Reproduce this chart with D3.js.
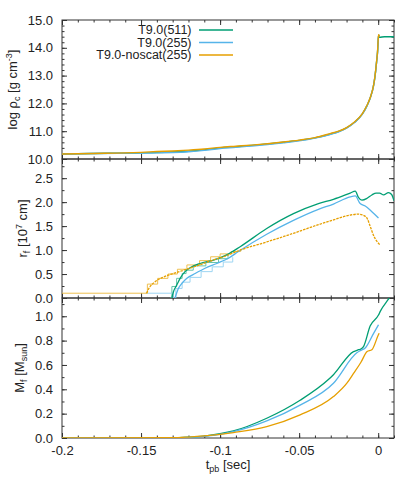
<!DOCTYPE html>
<html>
  <head>
    <meta charset="utf-8" />
    <title>Central density, shock radius, mass</title>
    <script src="https://d3js.org/d3.v7.min.js"></script>
    <style>
      body { margin: 0; background: #fff; }
      svg text { font-family: "Liberation Sans", Arial, sans-serif; fill: #222; }
    </style>
  </head>
  <body>
    <svg id="viz"></svg>
    <script>

      // series names & colours
      var names = ["T9.0(511)", "T9.0(255)", "T9.0-noscat(255)"];
      var colors = ["#009e73", "#56b4e9", "#e69f00"];
      var lightColors = ["#66c5ab", "#9dd5f2", "#efc050"];

      // top panel: log central density
      var tRho = [-0.2, -0.18, -0.16, -0.15, -0.14, -0.13, -0.12, -0.11, -0.1, -0.09, -0.08, -0.07, -0.06, -0.05, -0.04, -0.03, -0.025, -0.02, -0.015, -0.01, -0.007, -0.005, -0.003, -0.002, -0.001, -0.0004, 0.0, 0.0003, 0.0008, 0.004, 0.01];
      var rhoGreen = [10.18, 10.2, 10.21, 10.22, 10.23, 10.25, 10.28, 10.33, 10.4, 10.44, 10.49, 10.54, 10.6, 10.67, 10.76, 10.9, 10.99, 11.12, 11.32, 11.62, 11.93, 12.2, 12.62, 12.98, 13.5, 13.85, 14.25, 14.45, 14.38, 14.4, 14.4];
      var rhoBlue = [10.18, 10.2, 10.21, 10.21, 10.22, 10.23, 10.26, 10.31, 10.38, 10.42, 10.47, 10.52, 10.58, 10.65, 10.75, 10.89, 10.98, 11.11, 11.31, 11.61, 11.92, 12.2, 12.62, 12.98, 13.5, 13.85, 14.25, 14.45, 14.4, null, null];
      var rhoOrange = [10.18, 10.2, 10.22, 10.24, 10.27, 10.29, 10.32, 10.36, 10.42, 10.46, 10.5, 10.55, 10.61, 10.68, 10.77, 10.92, 11.0, 11.13, 11.33, 11.63, 11.94, 12.21, 12.63, 12.99, 13.52, 13.88, 14.3, 14.47, 14.4, null, null];

      // middle panel: shock radius (main curves)
      var rGreenT = [-0.1305, -0.1295, -0.1274, -0.1253, -0.1222, -0.119, -0.1127, -0.1042, -0.0958, -0.0873, -0.0705, -0.0536, -0.0378, -0.0283, -0.0177, -0.0145, -0.0125, -0.0103, -0.007, -0.004, -0.0013, 0.0009, 0.0034, 0.0065, 0.0085, 0.01];
      var rGreen = [0, 0.13, 0.27, 0.41, 0.55, 0.63, 0.72, 0.79, 0.9, 1.07, 1.45, 1.76, 1.97, 2.06, 2.19, 2.23, 2.1, 2.04, 2.08, 2.15, 2.19, 2.19, 2.15, 2.2, 2.16, 2.03];
      var rBlueT = [-0.1285, -0.1264, -0.1243, -0.121, -0.1158, -0.1095, -0.1021, -0.0947, -0.0884, -0.0705, -0.0536, -0.0378, -0.0283, -0.0177, -0.0145, -0.0114, -0.0082, -0.004, 0.0002];
      var rBlue = [0, 0.2, 0.3, 0.41, 0.51, 0.62, 0.72, 0.83, 0.97, 1.33, 1.62, 1.85, 1.96, 2.11, 2.13, 1.97, 1.92, 1.8, 1.67];
      var rOrangeT = [-0.1465, -0.1447, -0.1411, -0.137, -0.1316, -0.123, -0.1148, -0.1063, -0.0979, -0.0873, -0.0705, -0.0536, -0.0378, -0.0283, -0.0177, -0.0127, -0.0076, -0.005, -0.003, 0.0013];
      var rOrange = [0.1, 0.22, 0.34, 0.42, 0.49, 0.58, 0.67, 0.77, 0.86, 1.0, 1.17, 1.35, 1.53, 1.63, 1.73, 1.75, 1.69, 1.49, 1.31, 1.1];

      // middle panel: stepped (grid) shock radius
      var sGreenT = [-0.1316, -0.1305, -0.1275, -0.124, -0.1215, -0.117, -0.109, -0.101, -0.095];
      var sGreen = [0, 0.24, 0.41, 0.51, 0.58, 0.67, 0.74, 0.82, 0.9];
      var sBlueT = [-0.147, -0.1296, -0.128, -0.124, -0.119, -0.112, -0.105, -0.098, -0.092];
      var sBlue = [0.1, 0, 0.2, 0.33, 0.43, 0.55, 0.65, 0.75, 0.85];
      var sOrangeT = [-0.2, -0.146, -0.1395, -0.133, -0.127, -0.121, -0.113, -0.106, -0.1, -0.093, -0.087];
      var sOrange = [0.1, 0.29, 0.41, 0.5, 0.6, 0.69, 0.78, 0.86, 0.92, 0.97, 1.02];

      // bottom panel: mass
      var mGreenT = [-0.2, -0.13, -0.12, -0.11, -0.1, -0.0916, -0.0705, -0.0494, -0.0315, -0.0283, -0.0156, -0.0135, -0.0125, -0.011, -0.0093, -0.0051, 0.0002, 0.0013, 0.0065, 0.0076];
      var mGreen = [0, 0.001, 0.006, 0.016, 0.035, 0.058, 0.162, 0.31, 0.48, 0.52, 0.71, 0.72, 0.725, 0.73, 0.75, 0.92, 1.01, 1.04, 1.14, 1.16];
      var mBlueT = [-0.2, -0.13, -0.12, -0.11, -0.1, -0.0916, -0.0705, -0.0494, -0.0283, -0.0135, -0.011, -0.0082, -0.0029, 0.0002];
      var mBlue = [0, 0.001, 0.005, 0.014, 0.03, 0.052, 0.14, 0.27, 0.45, 0.7, 0.72, 0.74, 0.86, 0.93];
      var mOrangeT = [-0.2, -0.13, -0.12, -0.11, -0.1, -0.0916, -0.0705, -0.0494, -0.0283, -0.0198, -0.0156, -0.011, -0.007, -0.004, 0.0002, 0.0006];
      var mOrange = [0, 0.002, 0.008, 0.017, 0.03, 0.045, 0.093, 0.19, 0.34, 0.45, 0.53, 0.62, 0.71, 0.725, 0.85, 0.86];

      // ticks
      var xMajor = [-0.2, -0.15, -0.1, -0.05, 0];
      var xLabels = ["-0.2", "-0.15", "-0.1", "-0.05", "0"];
      var rhoTicks = [10, 11, 12, 13, 14, 15];
      var rTicks = [0, 0.5, 1, 1.5, 2, 2.5];
      var mTicks = [0, 0.2, 0.4, 0.6, 0.8, 1.0];

      var width = 415, height = 498;
      var svg = d3.select("#viz").attr("width", width).attr("height", height);

      var x = d3.scaleLinear().domain([-0.2, 0.01]).range([62, 394]);
      var xMinor = d3.range(-0.2, 0.0101, 0.01);

      var panels = [
        { y: d3.scaleLinear().domain([10, 15]).range([159, 20]), major: rhoTicks, minor: d3.range(10, 15.01, 0.2), fmt: d3.format(".1f") },
        { y: d3.scaleLinear().domain([0, 2.9]).range([298, 159]), major: rTicks, minor: d3.range(0, 2.9, 0.25), fmt: d3.format(".1f") },
        { y: d3.scaleLinear().domain([0, 1.15]).range([438, 298]), major: mTicks, minor: d3.range(0, 1.15, 0.1), fmt: d3.format(".1f") }
      ];

      panels.forEach(function(p, i) {
        var top = p.y.range()[1], bot = p.y.range()[0];
        var g = svg.append("g");

        svg.append("clipPath").attr("id", "clip" + i)
          .append("rect").attr("x", 62).attr("y", top).attr("width", 332).attr("height", bot - top);

        function noDomain(sel) { sel.select(".domain").remove(); sel.selectAll("line").attr("stroke", "#333"); sel.selectAll("text").attr("font-size", 13).attr("font-family", null).attr("fill", "#222"); }

        // y ticks left & right
        g.append("g").attr("transform", "translate(62,0)")
          .call(d3.axisLeft(p.y).tickValues(p.minor).tickSize(-2.5).tickFormat("")).call(noDomain);
        g.append("g").attr("transform", "translate(62,0)")
          .call(d3.axisLeft(p.y).tickValues(p.major).tickSize(-5).tickPadding(9).tickFormat(p.fmt)).call(noDomain);
        g.append("g").attr("transform", "translate(394,0)")
          .call(d3.axisRight(p.y).tickValues(p.minor).tickSize(-2.5).tickFormat("")).call(noDomain);
        g.append("g").attr("transform", "translate(394,0)")
          .call(d3.axisRight(p.y).tickValues(p.major).tickSize(-5).tickFormat("")).call(noDomain);

        // x ticks top & bottom
        g.append("g").attr("transform", "translate(0," + top + ")")
          .call(d3.axisTop(x).tickValues(xMinor).tickSize(-2.5).tickFormat("")).call(noDomain);
        g.append("g").attr("transform", "translate(0," + top + ")")
          .call(d3.axisTop(x).tickValues(xMajor).tickSize(-5).tickFormat("")).call(noDomain);
        g.append("g").attr("transform", "translate(0," + bot + ")")
          .call(d3.axisBottom(x).tickValues(xMinor).tickSize(-2.5).tickFormat("")).call(noDomain);
        g.append("g").attr("transform", "translate(0," + bot + ")")
          .call(d3.axisBottom(x).tickValues(xMajor).tickSize(-5).tickPadding(8)
            .tickFormat(i === 2 ? function(d, k) { return xLabels[k]; } : "")).call(noDomain);

        g.append("rect").attr("x", 62).attr("y", top).attr("width", 332).attr("height", bot - top)
          .attr("fill", "none").attr("stroke", "#333").attr("stroke-width", 1);
        p.clip = "url(#clip" + i + ")";
      });

      function line(ts, vs, y, curve) {
        var pts = ts.map(function(t, k) { return [t, vs[k]]; });
        return d3.line()
          .defined(function(d) { return d[1] !== null; })
          .x(function(d) { return x(d[0]); })
          .y(function(d) { return y(d[1]); })
          .curve(curve || d3.curveLinear)(pts);
      }

      var plotRho = svg.append("g").attr("clip-path", panels[0].clip);
      [rhoGreen, rhoBlue, rhoOrange].forEach(function(vs, k) {
        plotRho.append("path").attr("d", line(tRho, vs, panels[0].y, d3.curveMonotoneX))
          .attr("fill", "none").attr("stroke", colors[k]).attr("stroke-width", 1.4);
      });

      var plotR = svg.append("g").attr("clip-path", panels[1].clip);
      [[sGreenT, sGreen], [sBlueT, sBlue], [sOrangeT, sOrange]].forEach(function(s, k) {
        plotR.append("path").attr("d", line(s[0], s[1], panels[1].y, d3.curveStepAfter))
          .attr("fill", "none").attr("stroke", lightColors[k]).attr("stroke-width", 1);
      });
      [[rGreenT, rGreen], [rBlueT, rBlue], [rOrangeT, rOrange]].forEach(function(s, k) {
        plotR.append("path").attr("d", line(s[0], s[1], panels[1].y, d3.curveMonotoneX))
          .attr("fill", "none").attr("stroke", colors[k]).attr("stroke-width", 1.3)
          .attr("stroke-dasharray", k === 2 ? "2.5,1" : null);
      });

      var plotM = svg.append("g").attr("clip-path", panels[2].clip);
      [[mGreenT, mGreen], [mBlueT, mBlue], [mOrangeT, mOrange]].forEach(function(s, k) {
        plotM.append("path").attr("d", line(s[0], s[1], panels[2].y, d3.curveMonotoneX))
          .attr("fill", "none").attr("stroke", colors[k]).attr("stroke-width", 1.3);
      });

      // legend
      var legend = svg.append("g");
      names.forEach(function(n, k) {
        var yy = 30 + k * 12.5;
        legend.append("text").attr("x", 191.5).attr("y", yy).attr("dy", "0.35em")
          .attr("text-anchor", "end").attr("font-size", 12.5).text(n);
        legend.append("line").attr("x1", 199).attr("x2", 233).attr("y1", yy).attr("y2", yy)
          .attr("stroke", colors[k]).attr("stroke-width", 1.6);
      });

      // axis labels
      var lab1 = svg.append("text").attr("transform", "translate(17,89.5) rotate(-90)")
        .attr("text-anchor", "middle").attr("font-size", 13);
      lab1.append("tspan").text("log ρ");
      lab1.append("tspan").attr("font-size", 9).attr("dy", 3).text("c");
      lab1.append("tspan").attr("dy", -3).text(" [g cm");
      lab1.append("tspan").attr("font-size", 9).attr("dy", -5).text("-3");
      lab1.append("tspan").attr("dy", 5).text("]");

      var lab2 = svg.append("text").attr("transform", "translate(27,228.5) rotate(-90)")
        .attr("text-anchor", "middle").attr("font-size", 13);
      lab2.append("tspan").text("r");
      lab2.append("tspan").attr("font-size", 9).attr("dy", 3).text("f");
      lab2.append("tspan").attr("dy", -3).text(" [10");
      lab2.append("tspan").attr("font-size", 9).attr("dy", -5).text("7");
      lab2.append("tspan").attr("dy", 5).text(" cm]");

      var lab3 = svg.append("text").attr("transform", "translate(24,368) rotate(-90)")
        .attr("text-anchor", "middle").attr("font-size", 13);
      lab3.append("tspan").text("M");
      lab3.append("tspan").attr("font-size", 9).attr("dy", 3).text("f");
      lab3.append("tspan").attr("dy", -3).text(" [M");
      lab3.append("tspan").attr("font-size", 9).attr("dy", 3).text("sun");
      lab3.append("tspan").attr("dy", -3).text("]");

      var labX = svg.append("text").attr("x", 228).attr("y", 469)
        .attr("text-anchor", "middle").attr("font-size", 13);
      labX.append("tspan").text("t");
      labX.append("tspan").attr("font-size", 9).attr("dy", 3).text("pb");
      labX.append("tspan").attr("dy", -3).text(" [sec]");

    </script>
  </body>
</html>
